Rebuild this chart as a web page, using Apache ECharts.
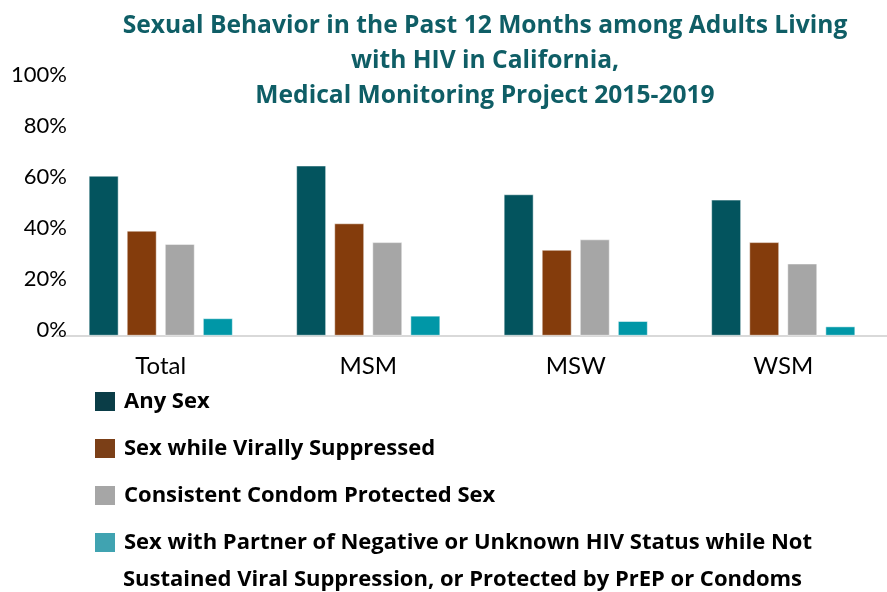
<!DOCTYPE html>
<html>
<head>
<meta charset="utf-8">
<script src="https://cdn.jsdelivr.net/npm/echarts@6/dist/echarts.min.js"></script>
<style>html,body{margin:0;padding:0;background:#fff}#c{width:887px;height:592px}</style>
</head>
<body>
<div id="c"></div>
<script>
const titleText = 'Sexual Behavior in the Past 12 Months among Adults Living\nwith HIV in California,\nMedical Monitoring Project 2015-2019';
const categories = ['Total', 'MSM', 'MSW', 'WSM'];
const seriesNames = [
  'Any Sex',
  'Sex while Virally Suppressed',
  'Consistent Condom Protected Sex',
  'Sex with Partner of Negative or Unknown HIV Status while Not'
];
const lastLegendSecondLine = 'Sustained Viral Suppression, or Protected by PrEP or Condoms';
const anySex = [62.7, 66.7, 55.4, 53.3];
const viralSupp = [41.1, 44.0, 33.6, 36.6];
const condom = [35.9, 36.6, 37.7, 28.2];
const partner = [6.7, 7.7, 5.6, 3.5];
const yTicks = [0, 20, 40, 60, 80, 100];

const barColors = ['#03545e', '#843c0c', '#a6a6a6', '#0097a7'];
const legendColors = ['#0a3d47', '#7b3f17', '#a6a6a6', '#40a3b1'];
const values = [anySex, viralSupp, condom, partner];

const chart = echarts.init(document.getElementById('c'), null, {renderer: 'canvas'});
const FONT = 'Lato';
const BFONT = 'Open Sans';
chart.setOption({
  animation: false,
  backgroundColor: '#ffffff',
  title: {
    text: titleText,
    left: 485,
    textAlign: 'center',
    top: 8,
    padding: 0,
    textStyle: {fontFamily: BFONT, fontWeight: 'bold', fontSize: 24.6, color: '#0f5e66', lineHeight: 35}
  },
  legend: {
    orient: 'vertical',
    left: 93,
    top: 383,
    height: 400,
    padding: 0,
    itemWidth: 22,
    itemHeight: 21,
    itemGap: 10,
    icon: 'rect',
    selectedMode: false,
    textStyle: {fontFamily: BFONT, fontWeight: 'bold', fontSize: 22, color: '#000', lineHeight: 37, padding: [0, 0, 0, 3]},
    data: seriesNames.map((n, i) => ({name: n, itemStyle: {color: legendColors[i]}}))
  },
  graphic: [{
    type: 'text',
    left: 123,
    top: 561,
    style: {text: lastLegendSecondLine, fontFamily: BFONT, fontWeight: 'bold', fontSize: 22, fill: '#000', lineHeight: 37}
  }],
  grid: {left: 57, right: -6, top: 81, bottom: 592 - 335.5, containLabel: false},
  xAxis: {
    type: 'category',
    data: categories,
    axisLine: {show: true, lineStyle: {color: '#d9d9d9', width: 2}},
    axisTick: {show: false},
    axisLabel: {fontFamily: FONT, fontSize: 24, color: '#000', margin: 19}
  },
  yAxis: {
    type: 'value',
    min: yTicks[0],
    max: yTicks[yTicks.length - 1],
    interval: 20,
    splitLine: {show: false},
    axisLine: {show: false},
    axisTick: {show: false},
    axisLabel: {fontFamily: FONT, fontSize: 22, color: '#000', margin: -10, verticalAlign: 'bottom', lineHeight: 12, formatter: v => v + '%'}
  },
  series: seriesNames.map((n, i) => ({
    name: n,
    type: 'bar',
    data: values[i],
    barWidth: 29.5,
    barGap: '29%',
    itemStyle: {color: barColors[i], borderColor: '#ffffff', borderWidth: 0.5}
  }))
});
</script>
</body>
</html>
